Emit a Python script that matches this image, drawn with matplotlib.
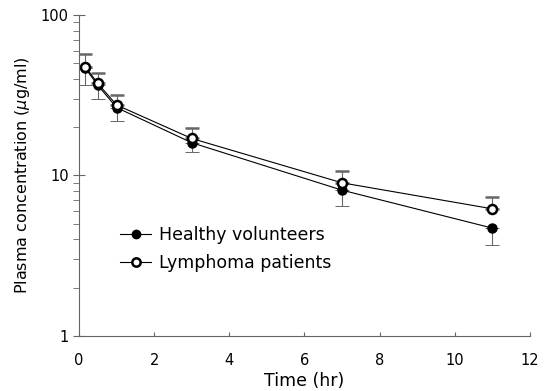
import matplotlib
matplotlib.use("Agg")
import matplotlib.pyplot as plt
from matplotlib.lines import Line2D
from matplotlib.ticker import LogLocator, NullFormatter

plt.rcParams['font.family'] = ['DejaVu Sans']

# DATA
time = [0.17, 0.5, 1, 3, 7, 11]
healthy = [46.5, 36.5, 26.5, 16.0, 8.1, 4.7]
healthy_lo = [10, 6.5, 4.5, 2.0, 1.6, 1.0]
lymphoma = [47.5, 37.5, 27.5, 17.0, 9.0, 6.2]
lymphoma_hi = [9.5, 6.0, 4.0, 2.8, 1.7, 1.1]

fig = plt.figure(figsize=(5.5, 3.91), dpi=100)
ax = fig.add_axes([0.1436, 0.1407, 0.82, 0.821])

ax.errorbar(time, healthy, yerr=[healthy_lo, [0] * len(healthy_lo)], fmt='-o', color='black', lw=0.8,
            ms=6.5, mfc='black', mec='black', ecolor='#666666', elinewidth=0.8,
            capsize=5, capthick=0.7)
ax.errorbar(time, lymphoma, yerr=[[0] * len(lymphoma_hi), lymphoma_hi], fmt='-o', color='black', lw=0.8,
            ms=6.5, mfc='white', mec='black', mew=1.8, ecolor='#666666', elinewidth=0.8,
            capsize=5, capthick=0.7)

ax.set_yscale('log')
ax.set_xlim(0, 12)
ax.set_ylim(1, 100)
ax.set_xticks(range(0, 13, 2))
ax.set_yticks([1, 10, 100])
ax.set_yticklabels(['1', '10', '100'])
ax.yaxis.set_minor_locator(LogLocator(base=10, subs=range(2, 10)))
ax.yaxis.set_minor_formatter(NullFormatter())

for s in ['top', 'right']:
    ax.spines[s].set_visible(False)
for s in ['left', 'bottom']:
    ax.spines[s].set_color('#666666')
    ax.spines[s].set_linewidth(0.8)

ax.tick_params(axis='x', direction='in', length=3, color='#666666', labelsize=10.5, pad=12)
ax.tick_params(axis='y', which='major', direction='inout', length=8, color='#666666', labelsize=10.5)
ax.tick_params(axis='y', which='minor', direction='out', length=4, color='#666666')

ax.set_xlabel('Time (hr)', fontsize=12.5, labelpad=3)
ax.set_ylabel('Plasma concentration ($\\mu$g/ml)', fontsize=11.5, labelpad=6)

handles = [
    Line2D([], [], color='black', lw=0.8, marker='o', ms=6, mfc='black', mec='black'),
    Line2D([], [], color='black', lw=0.8, marker='o', ms=6, mfc='white', mec='black', mew=1.8),
]
ax.legend(handles, ['Healthy volunteers', 'Lymphoma patients'], loc='center left',
          bbox_to_anchor=(0.091, 0.271), frameon=False, borderpad=0, borderaxespad=0,
          fontsize=12.5, handlelength=1.8, handletextpad=0.45, labelspacing=0.6)

fig.savefig('out.png', dpi=100)
